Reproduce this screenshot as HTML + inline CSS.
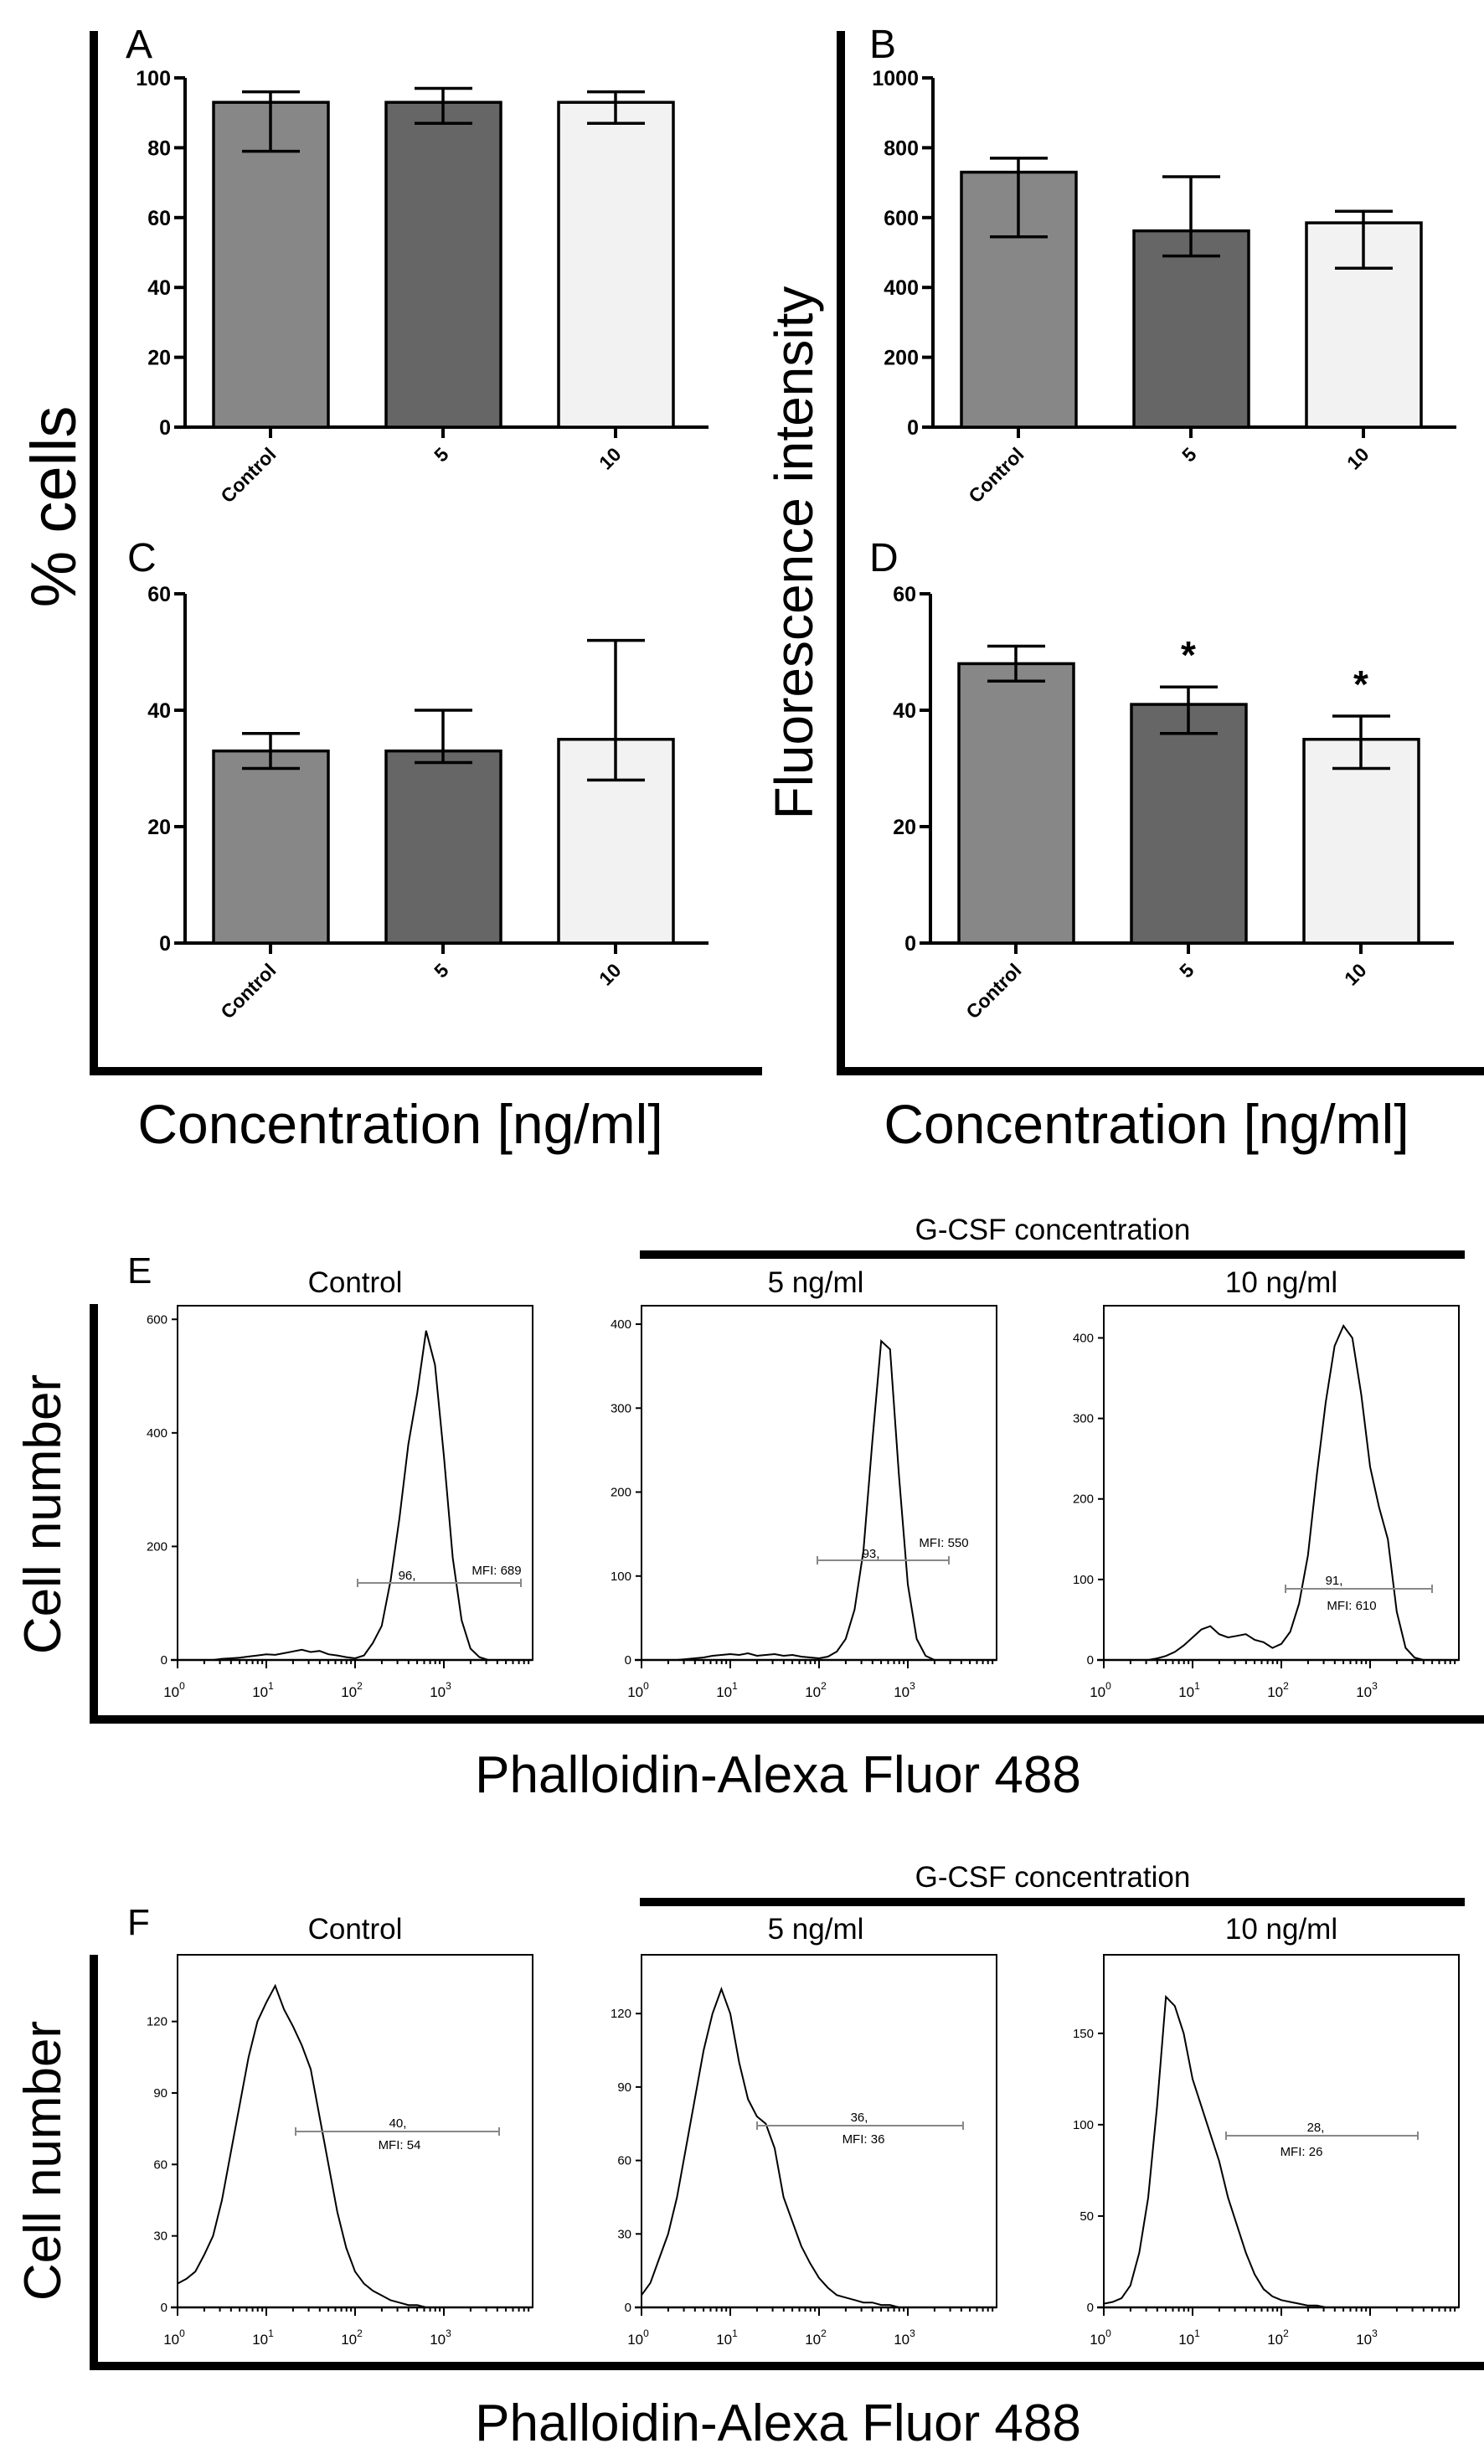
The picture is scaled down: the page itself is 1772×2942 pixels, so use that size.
<!DOCTYPE html>
<html><head><meta charset="utf-8"><style>
html,body{margin:0;padding:0;background:#fff}
svg{display:block}
text{font-family:"Liberation Sans",sans-serif}
</style></head><body>
<svg id="fig" xmlns="http://www.w3.org/2000/svg" width="1772" height="2942" viewBox="0 0 1772 2942">
<rect width="1772" height="2942" fill="#fff"/>
<g id="static" stroke="#000" fill="none">
  <line x1="112" y1="37" x2="112" y2="1284" stroke-width="10"/>
  <line x1="107" y1="1279" x2="910" y2="1279" stroke-width="10"/>
  <line x1="1004" y1="37" x2="1004" y2="1284" stroke-width="10"/>
  <line x1="999" y1="1279" x2="1772" y2="1279" stroke-width="10"/>
  <line x1="112" y1="1557" x2="112" y2="2058" stroke-width="10"/>
  <line x1="107" y1="2053" x2="1772" y2="2053" stroke-width="10"/>
  <line x1="764" y1="1498" x2="1749" y2="1498" stroke-width="10"/>
  <line x1="112" y1="2334" x2="112" y2="2830" stroke-width="10"/>
  <line x1="107" y1="2825" x2="1772" y2="2825" stroke-width="10"/>
  <line x1="764" y1="2271" x2="1749" y2="2271" stroke-width="10"/>
</g>
<g font-size="48" fill="#000">
  <text x="150" y="69">A</text>
  <text x="1038" y="69">B</text>
  <text x="152" y="682">C</text>
  <text x="1038" y="682">D</text>
  <text x="152" y="1532" font-size="44">E</text>
  <text x="152" y="2310" font-size="44">F</text>
</g>
<g font-size="60" fill="#000" text-anchor="middle">
  <text transform="translate(90,605) rotate(-90)" font-size="76">% cells</text>
  <text transform="translate(970,660) rotate(-90)" font-size="64">Fluorescence intensity</text>
  <text x="478" y="1365" font-size="66">Concentration [ng/ml]</text>
  <text x="1369" y="1365" font-size="66">Concentration [ng/ml]</text>
  <text transform="translate(72,1808) rotate(-90)" font-size="62">Cell number</text>
  <text transform="translate(72,2580) rotate(-90)" font-size="62">Cell number</text>
  <text x="929" y="2140" font-size="62">Phalloidin-Alexa Fluor 488</text>
  <text x="929" y="2914" font-size="62">Phalloidin-Alexa Fluor 488</text>
</g>
<g font-size="35" fill="#000" text-anchor="middle">
  <text x="1257" y="1480">G-CSF concentration</text>
  <text x="424" y="1543">Control</text>
  <text x="974" y="1543">5 ng/ml</text>
  <text x="1530" y="1543">10 ng/ml</text>
  <text x="1257" y="2253">G-CSF concentration</text>
  <text x="424" y="2315">Control</text>
  <text x="974" y="2315">5 ng/ml</text>
  <text x="1530" y="2315">10 ng/ml</text>
</g>
<g id="dyn"></g>
</svg>
<script>
// ---- bar chart data ----
const barCategories = ["Control", "5", "10"];
const aValues = [93, 93, 93];
const aLow = [79, 87, 87];
const aHigh = [96, 97, 96];
const aTicks = [0, 20, 40, 60, 80, 100];
const bValues = [730, 562, 585];
const bLow = [545, 490, 455];
const bHigh = [770, 717, 618];
const bTicks = [0, 200, 400, 600, 800, 1000];
const cValues = [33, 33, 35];
const cLow = [30, 31, 28];
const cHigh = [36, 40, 52];
const cTicks = [0, 20, 40, 60];
const dValues = [48, 41, 35];
const dLow = [45, 36, 30];
const dHigh = [51, 44, 39];
const dTicks = [0, 20, 40, 60];
const dStars = [false, true, true];
const barColors = ["#878787", "#666666", "#f2f2f2"];

// ---- histogram data (log10 positions, step 0.1 from 0 to 4) ----
const histLog = [0,0.1,0.2,0.3,0.4,0.5,0.6,0.7,0.8,0.9,1.0,1.1,1.2,1.3,1.4,1.5,1.6,1.7,1.8,1.9,2.0,2.1,2.2,2.3,2.4,2.5,2.6,2.7,2.8,2.9,3.0,3.1,3.2,3.3,3.4,3.5,3.6,3.7,3.8,3.9,4.0];
const eControl = [0,0,0,0,0,2,3,4,6,8,10,9,12,15,18,14,16,10,8,5,3,8,30,60,140,250,380,470,580,520,360,180,70,20,5,0,0,0,0,0,0];
const e5 = [0,0,0,0,0,1,2,3,5,6,7,6,8,5,6,7,5,6,4,3,2,4,10,25,60,130,260,380,370,220,90,25,5,0,0,0,0,0,0,0,0];
const e10 = [0,0,0,0,0,0,2,5,10,18,28,38,42,32,28,30,32,25,22,15,20,35,70,130,230,320,390,415,400,330,240,190,150,60,15,3,0,0,0,0,0];
const fControl = [10,12,15,22,30,45,65,85,105,120,128,135,125,118,110,100,80,60,40,25,15,10,7,5,3,2,1,1,0,0,0,0,0,0,0,0,0,0,0,0,0];
const f5 = [5,10,20,30,45,65,85,105,120,130,120,100,85,78,75,65,45,35,25,18,12,8,5,4,3,2,2,1,1,0,0,0,0,0,0,0,0,0,0,0,0];
const f10 = [2,3,5,12,30,60,110,170,165,150,125,110,95,80,60,45,30,18,10,6,4,3,2,1,1,0,0,0,0,0,0,0,0,0,0,0,0,0,0,0,0];
const eCtrlTicks = [0,200,400,600];
const e5Ticks = [0,100,200,300,400];
const e10Ticks = [0,100,200,300,400];
const fCtrlTicks = [0,30,60,90,120];
const f5Ticks = [0,30,60,90,120];
const f10Ticks = [0,50,100,150];
const xDecades = [0,1,2,3];
const gateLabels = ["96,", "93,", "91,", "40,", "36,", "28,"];
const mfiLabels = ["MFI: 689", "MFI: 550", "MFI: 610", "MFI: 54", "MFI: 36", "MFI: 26"];

const NS = "http://www.w3.org/2000/svg";
const dyn = document.getElementById("dyn");
function mk(tag, attrs, parent) {
  const e = document.createElementNS(NS, tag);
  for (const k in attrs) e.setAttribute(k, attrs[k]);
  (parent || dyn).appendChild(e);
  return e;
}

function barChart(id, axisX, zeroY, topY, max, ticks, vals, lo, hi, stars) {
  const g = mk("g", {});
  
  
  const y = v => zeroY - (v / max) * (zeroY - topY);
  const cx = i => axisX + 102 + i * 206;
  const ax = mk("path", {d: `M${axisX},${topY} V${zeroY} H${axisX + 625}`, stroke: "#000", "stroke-width": 4, fill: "none"}, g);
  
  
  ticks.forEach(t => {
    mk("line", {x1: axisX - 13, x2: axisX, y1: y(t), y2: y(t), stroke: "#000", "stroke-width": 4}, g);
    const tl = mk("text", {x: axisX - 17, y: y(t) + 9, "text-anchor": "end", "font-size": 25, "font-weight": "bold"}, g);
    tl.textContent = t;
    
    
  });
  vals.forEach((v, i) => {
    const c = cx(i);
    const r = mk("rect", {x: c - 68, y: y(v), width: 137, height: zeroY - y(v), fill: barColors[i], stroke: "#000", "stroke-width": 3.5}, g);
    
    
    const eb = mk("path", {d: `M${c},${y(lo[i])} V${y(hi[i])} M${c - 34},${y(hi[i])} H${c + 35} M${c - 34},${y(lo[i])} H${c + 35}`, stroke: "#000", "stroke-width": 3.5, fill: "none"}, g);
    
    
    mk("line", {x1: c, x2: c, y1: zeroY, y2: zeroY + 13, stroke: "#000", "stroke-width": 4}, g);
    const xl = mk("text", {transform: `translate(${c + 8},${zeroY + 34}) rotate(-45)`, "text-anchor": "end", "font-size": 23, "font-weight": "bold"}, g);
    xl.textContent = barCategories[i];
    
    
    if (stars && stars[i]) {
      const s = mk("text", {x: c, y: y(hi[i]) - 22, "text-anchor": "middle", "font-size": 46, "font-weight": "bold"}, g);
      s.textContent = "*";
      
      
    }
  });
}
barChart("a", 221, 510, 93, 100, aTicks, aValues, aLow, aHigh, null);
barChart("b", 1114, 510, 93, 1000, bTicks, bValues, bLow, bHigh, null);
barChart("c", 221, 1126, 709, 60, cTicks, cValues, cLow, cHigh, null);
barChart("d", 1111, 1126, 709, 60, dTicks, dValues, dLow, dHigh, dStars);

function hist(id, idx, x0, topY, zeroY, ymax, ticks, data, gate) {
  const g = mk("g", {});
  
  
  const W = 424;
  const xs = l => x0 + l * (W / 4);
  const ys = v => zeroY - v / ymax * (zeroY - topY);
  const box = mk("rect", {x: x0, y: topY, width: W, height: zeroY - topY, fill: "none", stroke: "#000", "stroke-width": 2}, g);
  
  
  mk("line", {x1: x0 - 8, x2: x0 + W, y1: zeroY, y2: zeroY, stroke: "#000", "stroke-width": 2.5}, g);
  ticks.forEach(t => {
    mk("line", {x1: x0 - 7, x2: x0, y1: ys(t), y2: ys(t), stroke: "#000", "stroke-width": 2}, g);
    const tl = mk("text", {x: x0 - 12, y: ys(t) + 5, "text-anchor": "end", "font-size": 15}, g);
    tl.textContent = t;
    
    
  });
  for (let d = 0; d < 4; d++) for (let k = 1; k < 10; k++) {
    const l = d + Math.log10(k);
    mk("line", {x1: xs(l), x2: xs(l), y1: zeroY, y2: zeroY + (k === 1 ? 10 : 5), stroke: "#000", "stroke-width": 2}, g);
  }
  xDecades.forEach(dd => {
    const tl = mk("text", {x: xs(dd) - 4, y: zeroY + 44, "text-anchor": "middle", "font-size": 17}, g);
    tl.textContent = "10";
    const sup = mk("tspan", {dy: -9, "font-size": 12}, tl);
    sup.textContent = dd;
    
    
  });
  let d = "";
  data.forEach((v, i) => { d += (i ? "L" : "M") + xs(histLog[i]).toFixed(1) + "," + ys(v).toFixed(1); });
  const p = mk("path", {d: d, fill: "none", stroke: "#000", "stroke-width": 2}, g);
  
  
  const gl = mk("path", {d: `M${gate[0]},${gate[2]}H${gate[1]}M${gate[0]},${gate[2] - 5}V${gate[2] + 5}M${gate[1]},${gate[2] - 5}V${gate[2] + 5}`, stroke: "#888", "stroke-width": 2, fill: "none"}, g);
  
  
  const t1 = mk("text", {x: gate[3], y: gate[4], "text-anchor": "middle", "font-size": 15}, g);
  t1.textContent = gateLabels[idx];
  
  
  const t2 = mk("text", {x: gate[5], y: gate[6], "text-anchor": "middle", "font-size": 15}, g);
  t2.textContent = mfiLabels[idx];
  
  
}
hist("e-control", 0, 212, 1559, 1982, 624, eCtrlTicks, eControl, [427, 622, 1890, 486, 1886, 593, 1880]);
hist("e-5", 1, 766, 1559, 1982, 422, e5Ticks, e5, [976, 1133, 1863, 1040, 1860, 1127, 1847]);
hist("e-10", 2, 1318, 1559, 1982, 440, e10Ticks, e10, [1535, 1710, 1897, 1593, 1892, 1614, 1922]);
hist("f-control", 3, 212, 2334, 2755, 148, fCtrlTicks, fControl, [353, 596, 2545, 475, 2540, 477, 2566]);
hist("f-5", 4, 766, 2334, 2755, 144, f5Ticks, f5, [904, 1150, 2538, 1026, 2533, 1031, 2559]);
hist("f-10", 5, 1318, 2334, 2755, 193, f10Ticks, f10, [1464, 1693, 2550, 1571, 2545, 1554, 2574]);
</script>
</body></html>
